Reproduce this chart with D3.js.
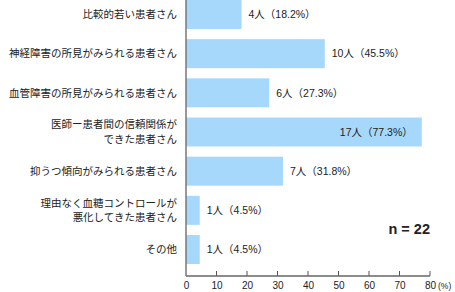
<!DOCTYPE html>
<html>
<head>
<meta charset="utf-8">
<script src="https://d3js.org/d3.v7.min.js"></script>
<style>
  body { margin: 0; background: #fff; }
  text { font-family: "Liberation Sans", "Noto Sans CJK JP", sans-serif; fill: #222; }
</style>
</head>
<body>
<div id="chart"></div>
<script>
// categories (line breaks with |)
var categories = [
  "比較的若い患者さん",
  "神経障害の所見がみられる患者さん",
  "血管障害の所見がみられる患者さん",
  "医師ー患者間の信頼関係が|できた患者さん",
  "抑うつ傾向がみられる患者さん",
  "理由なく血糖コントロールが|悪化してきた患者さん",
  "その他"
];
var counts = [4, 10, 6, 17, 7, 1, 1];
var percents = [18.2, 45.5, 27.3, 77.3, 31.8, 4.5, 4.5];
var ticks = [0, 10, 20, 30, 40, 50, 60, 70, 80];
var total = 22;

var width = 455, height = 292;
var x0 = 186, x1 = 430, axisY = 276;

var svg = d3.select("#chart").append("svg")
  .attr("width", width)
  .attr("height", height);

var x = d3.scaleLinear().domain([0, 80]).range([x0, x1]);
var y = d3.scaleBand()
  .domain(d3.range(categories.length))
  .range([-5.1, 269.1])
  .paddingInner(0.26)
  .paddingOuter(0.13);

// bars
svg.selectAll("rect.bar")
  .data(percents)
  .enter().append("rect")
  .attr("class", "bar")
  .attr("x", x(0))
  .attr("y", function(d, i) { return y(i); })
  .attr("width", function(d) { return x(d) - x(0); })
  .attr("height", y.bandwidth())
  .style("fill", "#a6d8fc");

// value labels
svg.selectAll("text.val")
  .data(percents)
  .enter().append("text")
  .attr("class", "val")
  .attr("x", function(d) { return d > 70 ? x(d) - 9 : x(d) + 7; })
  .attr("y", function(d, i) { return y(i) + y.bandwidth() / 2; })
  .attr("dy", "0.35em")
  .attr("text-anchor", function(d) { return d > 70 ? "end" : "start"; })
  .style("font-size", "10.5px")
  .text(function(d, i) { return counts[i] + "人（" + d + "%）"; });

// category labels
var labels = svg.selectAll("text.cat")
  .data(categories)
  .enter().append("text")
  .attr("class", "cat")
  .attr("text-anchor", "end")
  .style("font-size", "10.5px")
  .style("font-family", "'Noto Sans CJK JP', sans-serif");

labels.each(function(d, i) {
  var lines = d.split("|");
  var cy = y(i) + y.bandwidth() / 2;
  var lh = 14.5;
  var start = cy - (lines.length - 1) * lh / 2;
  d3.select(this).selectAll("tspan")
    .data(lines)
    .enter().append("tspan")
    .attr("x", 177)
    .attr("y", function(l, j) { return start + j * lh; })
    .attr("dy", "0.35em")
    .text(function(l) { return l; });
});

// axes
var xAxis = d3.axisBottom(x).tickValues(ticks).tickSize(0).tickPadding(6);
var gx = svg.append("g")
  .attr("transform", "translate(0," + axisY + ")")
  .call(xAxis);
gx.select(".domain").remove();
gx.selectAll("text").style("font-size", "10px").style("fill", "#222");

svg.selectAll("line.tick")
  .data(ticks.slice(1))
  .enter().append("line")
  .attr("x1", function(d) { return x(d); })
  .attr("x2", function(d) { return x(d); })
  .attr("y1", axisY - 5)
  .attr("y2", axisY)
  .style("stroke", "#555")
  .style("stroke-width", 1);

svg.append("line")
  .attr("x1", x0).attr("x2", x1)
  .attr("y1", axisY).attr("y2", axisY)
  .style("stroke", "#666").style("stroke-width", 1.5);

svg.append("line")
  .attr("x1", x0).attr("x2", x0)
  .attr("y1", 0).attr("y2", axisY)
  .style("stroke", "#777").style("stroke-width", 1.5);

svg.append("text")
  .attr("x", x1 + 8)
  .attr("y", axisY + 13)
  .style("font-size", "8.5px")
  .text("(%)");

svg.append("text")
  .attr("x", x1)
  .attr("y", 234)
  .attr("text-anchor", "end")
  .style("font-size", "14.5px")
  .style("font-weight", "bold")
  .text("n = " + total);
</script>
</body>
</html>
